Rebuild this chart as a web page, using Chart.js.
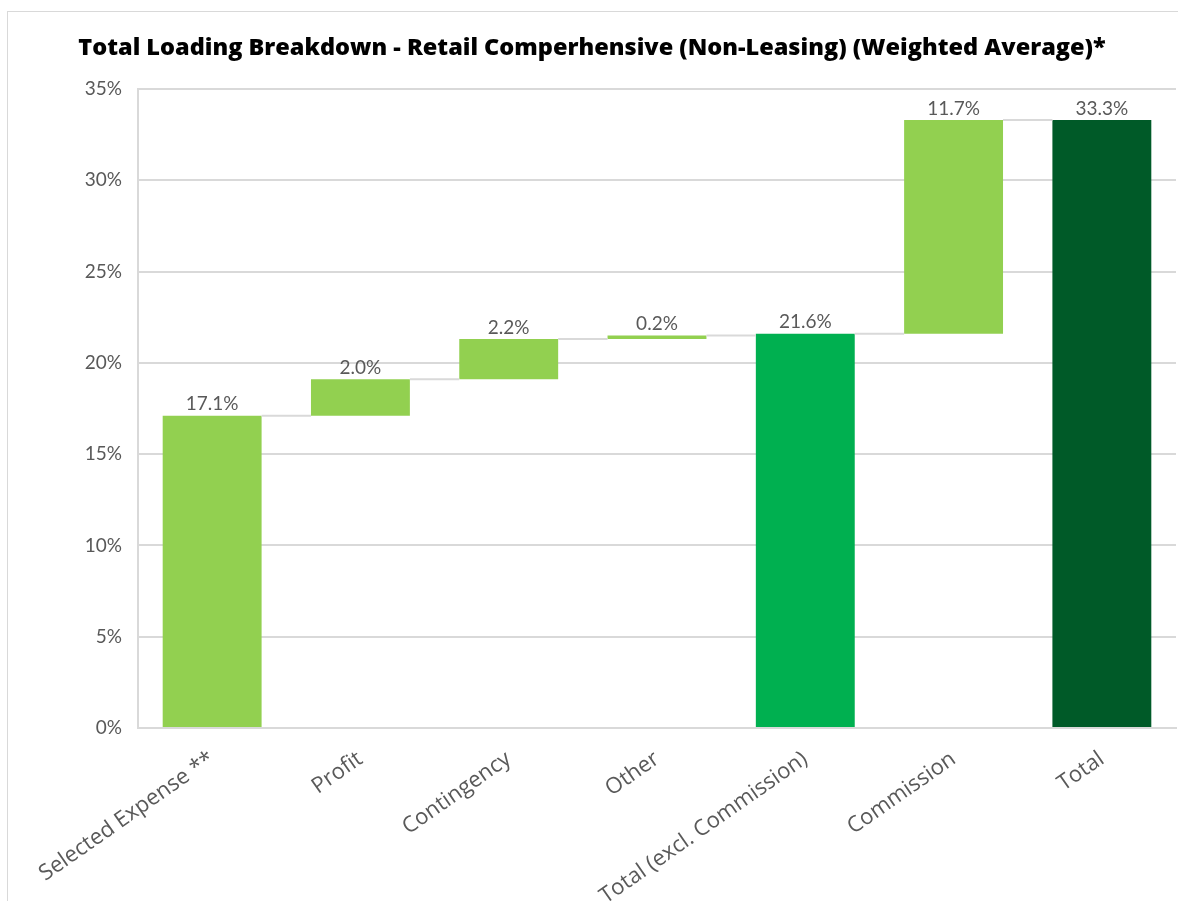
<!DOCTYPE html>
<html>
<head>
<meta charset="utf-8">
<script src="https://cdn.jsdelivr.net/npm/chart.js@4.4.1/dist/chart.umd.min.js"></script>
<style>
  html, body { margin: 0; padding: 0; background: #fff; overflow: hidden; }
  #frame {
    position: absolute; left: 7px; top: 11px;
    width: 1186px; height: 900px;
    border: 1px solid #d9d9d9; background: #fff;
  }
  #chart { display: block; }
</style>
</head>
<body>
<div id="frame"><canvas id="chart" width="1186" height="890"></canvas></div>
<script>
(function () {
  'use strict';

  // ── Data ──────────────────────────────────────────────────────────────────
  var CATEGORIES = ['Selected Expense **', 'Profit', 'Contingency', 'Other',
                    'Total (excl. Commission)', 'Commission', 'Total'];
  var VALUES     = [17.1, 2.0, 2.2, 0.2, 21.6, 11.7, 33.3];
  var IS_TOTAL   = [false, false, false, false, true, false, true];
  var Y_TICKS    = [0, 5, 10, 15, 20, 25, 30, 35];

  var LIGHT = '#92D050';
  var MID   = '#00B050';
  var DARK  = '#005A28';
  var GRID  = '#d9d9d9';
  var TEXT  = '#595959';
  var FONT  = 'Lato, "Open Sans", sans-serif';
  var WIDE  = '"Open Sans", Lato, sans-serif';

  // floating ranges for the waterfall
  var ranges = [];
  var colors = [];
  var run = 0;
  VALUES.forEach(function (v, i) {
    if (IS_TOTAL[i]) {
      ranges.push([0, v]);
      run = v;
      colors.push(i === VALUES.length - 1 ? DARK : MID);
    } else {
      ranges.push([run, run + v]);
      run += v;
      colors.push(LIGHT);
    }
  });

  // ── Connectors + value labels ─────────────────────────────────────────────
  var waterfallPlugin = {
    id: 'waterfall',
    afterDatasetsDraw: function (chart) {
      var ctx = chart.ctx;
      var meta = chart.getDatasetMeta(0);
      var y = chart.scales.y;
      ctx.save();
      // connectors
      ctx.strokeStyle = GRID;
      ctx.lineWidth = 2;
      for (var i = 0; i < meta.data.length - 1; i++) {
        var a = meta.data[i], b = meta.data[i + 1];
        var level = y.getPixelForValue(ranges[i][1]);
        ctx.beginPath();
        ctx.moveTo(a.x + a.width / 2, level);
        ctx.lineTo(b.x - b.width / 2, level);
        ctx.stroke();
      }
      // labels
      ctx.fillStyle = TEXT;
      ctx.font = '19px ' + FONT;
      ctx.textAlign = 'center';
      ctx.textBaseline = 'bottom';
      meta.data.forEach(function (bar, i) {
        var top = y.getPixelForValue(Math.max(ranges[i][0], ranges[i][1]));
        ctx.fillText(VALUES[i].toFixed(1) + '%', bar.x, top - 2);
      });
      ctx.restore();
    }
  };

  new Chart(document.getElementById('chart'), {
    type: 'bar',
    data: {
      labels: CATEGORIES,
      datasets: [{
        data: ranges,
        backgroundColor: colors,
        borderWidth: 0,
        borderSkipped: false,
        categoryPercentage: 1,
        barPercentage: 0.667
      }]
    },
    plugins: [waterfallPlugin],
    options: {
      responsive: false,
      animation: false,
      layout: { padding: { left: 0, right: 18, top: 0, bottom: 0 } },
      plugins: {
        legend: { display: false },
        tooltip: { enabled: false },
        title: {
          display: true,
          text: 'Total Loading Breakdown - Retail Comperhensive (Non-Leasing) (Weighted Average)*',
          color: '#000',
          font: { family: WIDE, size: 23.5, weight: '800', lineHeight: 1.2 },
          padding: { top: 22, bottom: 26.8 }
        }
      },
      scales: {
        x: {
          grid: { display: false, drawTicks: false },
          border: { display: true, color: GRID, width: 2 },
          ticks: {
            color: TEXT,
            font: { family: WIDE, size: 22 },
            minRotation: 35,
            maxRotation: 35,
            autoSkip: false,
            padding: 18
          },
          afterFit: function (scale) { scale.height = 174; }
        },
        y: {
          min: 0,
          max: 35,
          afterBuildTicks: function (scale) {
            scale.ticks = Y_TICKS.map(function (v) { return { value: v }; });
          },
          grid: { color: GRID, lineWidth: 2, drawTicks: false },
          border: { display: true, color: GRID, width: 2 },
          ticks: {
            color: TEXT,
            font: { family: FONT, size: 19 },
            padding: 16,
            callback: function (v) { return v + '%'; }
          },
          afterFit: function (scale) { scale.width = 130; }
        }
      }
    }
  });
}());
</script>
</body>
</html>
